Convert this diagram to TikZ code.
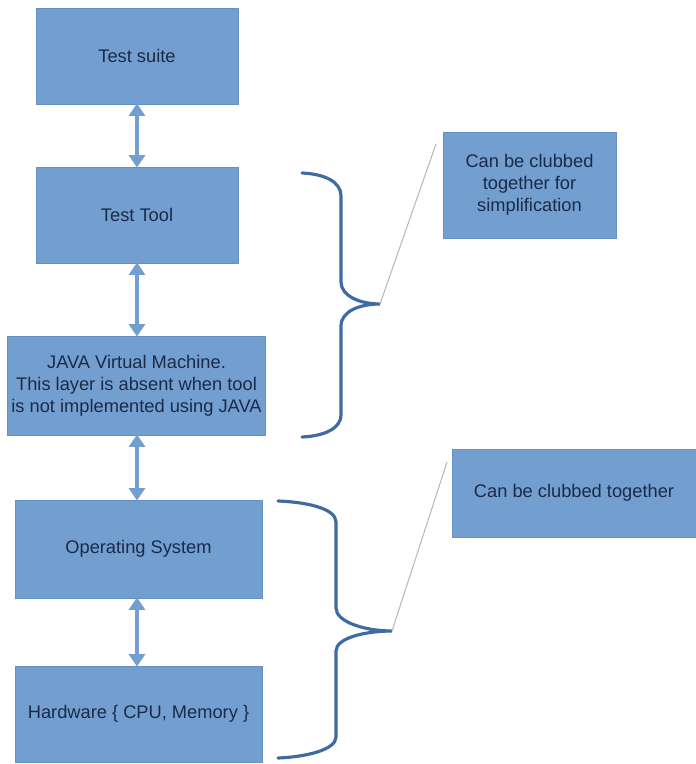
\documentclass[tikz,border=0pt]{standalone}
\usepackage{fontspec}
\setmainfont{Liberation Sans}
\usepackage{xcolor}
\usetikzlibrary{arrows.meta, positioning, calc}

\definecolor{boxblue}{HTML}{729FCF}
\definecolor{boxedge}{HTML}{6690C4}
\definecolor{bracecol}{HTML}{3F6BA3}
\definecolor{textnavy}{HTML}{1B2A48}
\definecolor{leadgray}{HTML}{B4BCB8}

\begin{document}
\begin{tikzpicture}[x=0.02cm, y=-0.02cm,
    layer/.style={draw=boxedge, fill=boxblue, text=textnavy, font=\fontsize{10.4}{12.6}\selectfont,
      align=center, inner sep=0pt},
    link/.style={{Triangle[width=9pt, length=7pt]}-{Triangle[width=9pt, length=7pt]},
      boxblue, line width=2.3pt, shorten <=-0.5pt, shorten >=-0.5pt},
    curly/.style={bracecol, line width=1.8pt, line cap=round},
    lead/.style={leadgray, line width=0.6pt}]
      \useasboundingbox (0,0) rectangle (696,764);

      % Layers
      \node[layer, minimum width=202*0.02cm, minimum height=96*0.02cm] (suite) at (137,56) {Test suite};
      \node[layer, minimum width=202*0.02cm, minimum height=96*0.02cm] (tool) at (137,215) {Test Tool};
      \node[layer, minimum width=258*0.02cm, minimum height=99*0.02cm] (jvm) at (136.5,385.5)
        {JAVA Virtual Machine.\\This layer is absent when tool\\is not implemented using JAVA};
      \node[layer, minimum width=247*0.02cm, minimum height=98*0.02cm] (os) at (138.5,549) {Operating System};
      \node[layer, minimum width=247*0.02cm, minimum height=96*0.02cm] (hw) at (138.5,714) {Hardware \{ CPU, Memory \}};

      % Notes
      \node[layer, minimum width=173*0.02cm, minimum height=106*0.02cm] (note1) at (529.5,185)
        {Can be clubbed\\together for\\simplification};
      \node[layer, minimum width=244*0.02cm, minimum height=88*0.02cm] (note2) at (574,493) {Can be clubbed together};

      % Links between layers
      \draw[link] (suite.south) -- (tool.north);
      \draw[link] (tool.south) -- (tool.south |- jvm.north);
      \draw[link] (tool.south |- jvm.south) -- (tool.south |- os.north);
      \draw[link] (tool.south |- os.south) -- (tool.south |- hw.north);

      % Braces
      \coordinate (tip1) at (380,304);
      \coordinate (tip2) at (392,631);
      \draw[curly] (302,173) .. controls (325,174) and (341,182) .. (341,196)
        -- (341,282) .. controls (341,296) and (360,304) .. (tip1)
        .. controls (360,304) and (341,311) .. (341,326)
        -- (341,415) .. controls (341,428) and (325,436) .. (302,437);
      \draw[curly] (278,501) .. controls (305,502) and (336,508) .. (336,522)
        -- (336,608) .. controls (336,622) and (365,631) .. (tip2)
        .. controls (365,631) and (336,638) .. (336,651)
        -- (336,737) .. controls (336,750) and (305,757) .. (278,758);

      % Leader lines
      \coordinate (end1) at (436,144);
      \coordinate (end2) at (447,462);
      \draw[lead] (tip1) -- (end1);
      \draw[lead] (tip2) -- (end2);
\end{tikzpicture}
\end{document}
